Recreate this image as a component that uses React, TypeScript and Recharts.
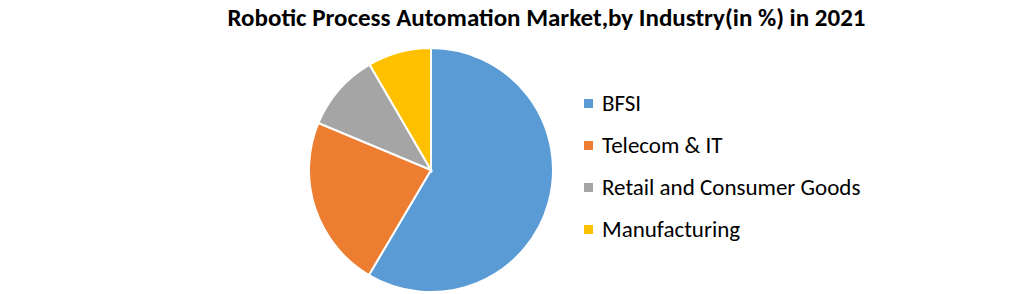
import React from 'react';
import { PieChart, Pie, Cell } from 'recharts';

const industries = ['BFSI', 'Telecom & IT', 'Retail and Consumer Goods', 'Manufacturing'];
const shares = [58.5, 22.8, 10.3, 8.4];
const colors = ['#5B9BD5', '#ED7D31', '#A5A5A5', '#FFC000'];

const data = industries.map((name, i) => ({ name, value: shares[i] }));

const font = 'Carlito, Calibri, "Open Sans", "Liberation Sans", sans-serif';

function LegendList() {
  return (
    <div style={{ position: 'absolute', left: 584, top: 82, fontFamily: font, fontSize: 23, color: '#000' }}>
      {industries.map((name, i) => (
        <div key={name} style={{ display: 'flex', alignItems: 'center', height: 42 }}>
          <span style={{ width: 9, height: 9, background: colors[i], marginRight: 9, display: 'inline-block' }} />
          <span>{name}</span>
        </div>
      ))}
    </div>
  );
}

export default function App() {
  return (
    <div style={{ position: 'absolute', left: 0, top: 0, width: 1013, height: 294, background: '#fff' }}>
      <PieChart width={1013} height={294} margin={{ top: 0, right: 0, bottom: 0, left: 0 }}>
        <Pie
          data={data}
          dataKey="value"
          nameKey="name"
          cx={431}
          cy={170}
          outerRadius={122}
          startAngle={90}
          endAngle={-270}
          stroke="#fff"
          strokeWidth={2}
          isAnimationActive={false}
        >
          {data.map((d, i) => (
            <Cell key={d.name} fill={colors[i]} />
          ))}
        </Pie>
      </PieChart>
      <div
        style={{
          position: 'absolute',
          left: 0,
          top: 2,
          width: 1093,
          textAlign: 'center',
          fontFamily: font,
          fontWeight: 'bold',
          fontSize: 25,
          color: '#000',
        }}
      >
        Robotic Process Automation Market,by Industry(in %) in 2021
      </div>
      <LegendList />
    </div>
  );
}
